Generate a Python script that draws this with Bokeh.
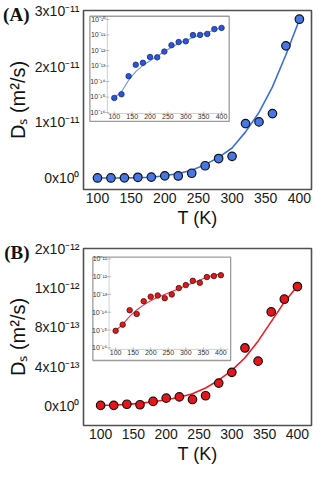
import math
from bokeh.plotting import figure
from bokeh.layouts import column
from bokeh.models import FixedTicker, Range1d, LinearAxis, LinearScale, LogScale
from bokeh.core.properties import value
from bokeh.embed import file_html
from bokeh.resources import INLINE

# ---------------- data ----------------
T = [100, 120, 140, 160, 180, 200, 220, 240, 260, 280, 300, 320, 340, 360, 380, 400]

ds_a = [8.7e-16, 1.5e-15, 2.2e-14, 1.2e-13, 1.6e-13, 3.8e-13, 3.6e-13, 8.5e-13,
        2.2e-12, 3.5e-12, 3.9e-12, 9.8e-12, 1.01e-11, 1.16e-11, 2.38e-11, 2.86e-11]
ds_b = [9e-16, 2e-15, 1.3e-14, 8e-15, 4.2e-14, 7.5e-14, 8.8e-14, 6.2e-14,
        1.0e-13, 2.3e-13, 3.4e-13, 5.9e-13, 4.55e-13, 9.6e-13, 1.09e-12, 1.22e-12]

# fitted curves as drawn (main linear panels and log insets)
fit_a_lin = [0, 0, 1e-14, 4e-14, 1.2e-13, 4e-13, 8e-13, 1.4e-12,
             2.4e-12, 3.7e-12, 5.4e-12, 8.3e-12, 1.18e-11, 1.64e-11, 2.22e-11, 2.85e-11]
fit_a_log = [8.9e-16, 2.2e-15, 1.2e-14, 4.3e-14, 1.1e-13, 2.2e-13, 4.2e-13, 8.3e-13,
             1.6e-12, 2.8e-12, 4.4e-12, 6.8e-12, 1.0e-11, 1.45e-11, 2.1e-11, 3.0e-11]
fit_b_lin = [0, 5e-15, 1.2e-14, 2.2e-14, 3.9e-14, 5.9e-14, 8.5e-14, 1.2e-13,
             1.8e-13, 2.6e-13, 3.6e-13, 4.9e-13, 6.6e-13, 8.6e-13, 1.06e-12, 1.226e-12]
fit_b_log = [9.1e-16, 2.1e-15, 5.8e-15, 1.35e-14, 2.6e-14, 4.4e-14, 6.9e-14, 1.0e-13,
             1.45e-13, 2.1e-13, 3.1e-13, 4.5e-13, 6.5e-13, 9.3e-13, 1.2e-12, 1.45e-12]

x_ticks = [100, 150, 200, 250, 300, 350, 400]

a_yticks = [0, 1e-11, 2e-11, 3e-11]
a_ylabels = ["0x10⁰", "1x10⁻¹¹", "2x10⁻¹¹", "3x10⁻¹¹"]
b_yticks = [0, 4e-13, 8e-13, 1.2e-12, 1.6e-12]
b_ylabels = ["0x10⁰", "4x10⁻¹³", "8x10⁻¹³", "1x10⁻¹²", "2x10⁻¹²"]

a_inset_ticks = [1e-16, 1e-15, 1e-14, 1e-13, 1e-12, 1e-11, 1e-10]
a_inset_labels = ["10⁻¹⁶", "10⁻¹⁵", "10⁻¹⁴", "10⁻¹³", "10⁻¹²", "10⁻¹¹", "10⁻¹⁰"]
b_inset_ticks = [1e-16, 1e-15, 1e-14, 1e-13, 1e-12, 1e-11]
b_inset_labels = ["10⁻¹⁶", "10⁻¹⁵", "10⁻¹⁴", "10⁻¹³", "10⁻¹²", "10⁻¹¹"]
inset_x_labels = [str(t) for t in x_ticks]

FONT = "Liberation Sans"
FIG_W = 313
BORDER_BOTTOM = 40


def make_panel(height, min_left, min_top, xr, yr, yticks, ylabels, ds, fit,
               pt_color, line_color, tag, tag_standoff,
               ix_range, iy_log_range, box, area,
               in_ticks, in_labels, fit_log, in_pt, in_pt_line, in_line):
    p = figure(width=FIG_W, height=height, x_range=Range1d(*xr), y_range=Range1d(*yr),
               output_backend="svg", toolbar_location=None,
               min_border_left=min_left, min_border_right=2,
               min_border_top=min_top, min_border_bottom=BORDER_BOTTOM,
               background_fill_color="white", border_fill_color="white")
    p.outline_line_color = "#505050"
    p.outline_line_width = 1.6
    p.xgrid.visible = False
    p.ygrid.visible = False
    for ax in (p.xaxis[0], p.yaxis[0]):
        ax.axis_line_color = None
        ax.major_tick_line_color = None
        ax.minor_tick_line_color = None
        ax.major_tick_out = 0
        ax.major_tick_in = 0
        ax.minor_tick_out = 0
        ax.minor_tick_in = 0
        ax.major_label_text_font = FONT
        ax.major_label_text_font_size = "14px"
        ax.major_label_text_color = "#1a1a1a"
        ax.axis_label_text_font = FONT
        ax.axis_label_text_font_style = "normal"
        ax.axis_label_text_color = "#111111"
    p.xaxis.ticker = FixedTicker(ticks=x_ticks)
    p.xaxis.axis_label = "T (K)"
    p.xaxis.axis_label_text_font_size = "18px"
    p.xaxis.major_label_standoff = 3
    p.xaxis.axis_label_standoff = 2
    p.yaxis.ticker = FixedTicker(ticks=yticks)
    p.yaxis.major_label_overrides = {t: l for t, l in zip(yticks, ylabels)}
    p.yaxis.axis_label = "Dₛ (m²/s)"
    p.yaxis.axis_label_text_font_size = "20px"
    p.yaxis.major_label_standoff = 4
    p.yaxis.axis_label_standoff = 3

    # panel tag "(A)"/"(B)": an outer left axis with a single labelled tick near the frame top
    frame_h = height - p.min_border_top - BORDER_BOTTOM
    tag_y = yr[1] - 4 * (yr[1] - yr[0]) / frame_h
    tag_axis = LinearAxis(ticker=FixedTicker(ticks=[tag_y]),
                          major_label_overrides={tag_y: tag},
                          axis_line_color=None, major_tick_line_color=None,
                          minor_tick_line_color=None, major_tick_out=0, major_tick_in=0,
                          minor_tick_out=0, minor_tick_in=0,
                          major_label_standoff=tag_standoff,
                          major_label_text_font="Liberation Serif",
                          major_label_text_font_style="bold",
                          major_label_text_font_size="19px",
                          major_label_text_color="#111111")
    p.add_layout(tag_axis, "left")

    # main series
    p.line(T, fit, line_color=line_color, line_width=1.6)
    p.scatter(T, ds, size=8.5, fill_color=pt_color, line_color="#111111", line_width=1.2)

    # ---- inset: its own linear x scale and log y scale over the same frame ----
    p.extra_x_ranges = {"ix": Range1d(*ix_range)}
    p.extra_x_scales = {"ix": LinearScale()}
    p.extra_y_ranges = {"iy": Range1d(10 ** iy_log_range[0], 10 ** iy_log_range[1])}
    p.extra_y_scales = {"iy": LogScale()}
    kw = dict(x_range_name="ix", y_range_name="iy")

    bl, br, bb, bt = box
    p.quad(left=[bl], right=[br], bottom=[10 ** bb], top=[10 ** bt],
           fill_color="white", line_color="#9c9c9c", line_width=1.3, **kw)
    al, ar, ab, at = area
    p.segment(x0=[al, al], y0=[10 ** ab, 10 ** ab], x1=[al, ar], y1=[10 ** at, 10 ** ab],
              line_color="#c4c4c4", line_width=0.8, **kw)
    p.scatter([al] * len(in_ticks), in_ticks, marker="dash", size=4,
              line_color="#b0b0b0", line_width=0.8, **kw)
    p.scatter(x_ticks, [10 ** ab] * len(x_ticks), marker="dash", angle=math.pi / 2, size=4,
              line_color="#b0b0b0", line_width=0.8, **kw)
    p.text([al] * len(in_ticks), in_ticks, text=in_labels, x_offset=-2,
           text_font=value(FONT), text_font_size=value("7px"), text_color="#333333",
           text_align="right", text_baseline="middle", **kw)
    p.text(x_ticks, [10 ** ab] * len(x_ticks), text=inset_x_labels, y_offset=1,
           text_font=value(FONT), text_font_size=value("7px"), text_color="#333333",
           text_align="center", text_baseline="top", **kw)

    p.line(T, fit_log, line_color=in_line, line_width=1.1, **kw)
    p.scatter(T, ds, size=5.5, fill_color=in_pt, line_color=in_pt_line, line_width=0.8, **kw)
    return p


# inset ranges/box are expressed in inset units so that the inset occupies
# the upper-left part of each frame, as in the reference
main_a = make_panel(230, 78, 10, (79.2, 418), (-2.08e-12, 3.017e-11), a_yticks, a_ylabels,
                    ds_a, fit_a_lin, "#4677e4", "#3a6fdc", "(A)", -26,
                    (13.8, 651.7), (-20.964, -9.423),
                    (31.7, 421.4, -16.577, -9.795), (80.5, 414, -16.062, -9.857),
                    a_inset_ticks, a_inset_labels, fit_a_log, "#2a55dc", "#1a2a78", "#7094e4")

main_b = make_panel(236, 75, 18, (73.9, 421.4), (-2.05e-13, 1.61e-12), b_yticks, b_ylabels,
                    ds_b, fit_b_lin, "#e8141c", "#ee1c25", "(B)", -26,
                    (8.4, 658.3), (-20.378, -10.41),
                    (35.1, 427.8, -16.718, -10.893), (81.3, 420.6, -16.091, -10.946),
                    b_inset_ticks, b_inset_labels, fit_b_log, "#e01818", "#4a1010", "#f0304a")

layout = column(main_a, main_b, spacing=0)

open("out.html", "w").write(file_html(layout, INLINE))
